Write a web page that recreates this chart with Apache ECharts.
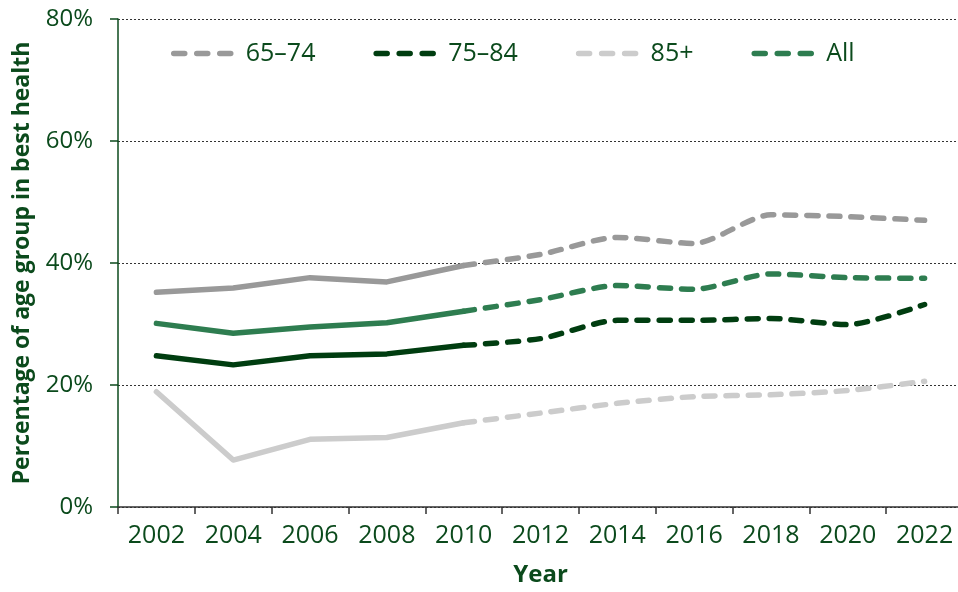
<!DOCTYPE html>
<html>
<head>
<meta charset="utf-8">
<script src="https://cdn.jsdelivr.net/npm/echarts@6/dist/echarts.min.js"></script>
<style>
  html, body { margin: 0; padding: 0; background: #fff; }
  #chart { width: 958px; height: 592px; }
</style>
</head>
<body>
<div id="chart"></div>
<script>
// survey years on the x axis
const years = ['2002', '2004', '2006', '2008', '2010', '2012', '2014', '2016', '2018', '2020', '2022']

// solid part (2002–2010), dashed part (2010–2022), values in %
const age6574 = [35.2, 35.9, 37.6, 36.9, 39.6, 41.4, 44.2, 43.2, 47.9, 47.6, 47.0]
const age7584 = [24.8, 23.3, 24.8, 25.1, 26.5, 27.6, 30.6, 30.6, 30.9, 29.9, 33.2]
const age85 = [18.9, 7.7, 11.1, 11.4, 13.8, 15.4, 17.0, 18.1, 18.4, 19.1, 20.6]
const ageAll = [30.1, 28.5, 29.5, 30.2, 32.1, 34.0, 36.3, 35.7, 38.2, 37.6, 37.5]

const splitIndex = 4 // 2010: solid ends, dashed starts

const yTicks = [0, 20, 40, 60, 80]

const textColor = '#0b4a1c'
const fontFamily = '"Open Sans", "Noto Sans", sans-serif'

const groups = [
  { name: '65–74', data: age6574, color: '#999999' },
  { name: '75–84', data: age7584, color: '#003d10' },
  { name: '85+', data: age85, color: '#cccccc' },
  { name: 'All', data: ageAll, color: '#2e7d50' },
]

// split one series into solid + dashed parts
const solidPart = (arr) => arr.map((v, i) => (i <= splitIndex ? v : '-'))
const dashedPart = (arr) => arr.map((v, i) => (i >= splitIndex ? v : '-'))

const dashedSeries = groups.map((g) => ({
  name: g.name,
  type: 'line',
  data: dashedPart(g.data),
  symbol: 'none',
  smooth: 0.25,
  lineStyle: { color: g.color, width: 5.5, type: [11, 11], cap: 'round', join: 'round' },
  itemStyle: { color: g.color },
  z: 3,
}))

const solidSeries = groups.map((g) => ({
  name: g.name,
  type: 'line',
  data: solidPart(g.data),
  symbol: 'none',
  lineStyle: { color: g.color, width: 5.5, type: 'solid', cap: 'round', join: 'round' },
  itemStyle: { color: g.color },
  z: 3,
}))

const chart = echarts.init(document.getElementById('chart'))

chart.setOption({
  animation: false,
  textStyle: { fontFamily: fontFamily },
  legend: {
    top: 36,
    left: 166,
    itemWidth: 63,
    itemHeight: 28,
    itemGap: 58,
    data: groups.map((g) => g.name),
    textStyle: { color: textColor, fontSize: 25, fontFamily: fontFamily, padding: [0, 0, 0, 4] },
    itemStyle: { opacity: 0 },
    lineStyle: { width: 5.5, type: [11, 12], cap: 'round' },
  },
  grid: {
    left: 118,
    top: 19,
    width: 845,
    height: 488,
    outerBoundsMode: 'none',
  },
  xAxis: {
    type: 'category',
    data: years,
    boundaryGap: true,
    name: 'Year',
    nameLocation: 'middle',
    nameGap: 56,
    nameTextStyle: { color: textColor, fontSize: 24, fontWeight: 'bold', fontFamily: fontFamily },
    axisLine: { lineStyle: { color: '#333333', width: 1.5 } },
    axisTick: { show: true, length: 7, lineStyle: { color: '#333333', width: 1.5 } },
    axisLabel: { color: textColor, fontSize: 25, margin: 16, fontFamily: fontFamily },
  },
  yAxis: {
    type: 'value',
    min: yTicks[0],
    max: yTicks[yTicks.length - 1],
    interval: 20,
    name: 'Percentage of age group in best health',
    nameLocation: 'middle',
    nameGap: 84,
    nameTextStyle: { color: textColor, fontSize: 23, fontWeight: 'bold', fontFamily: fontFamily },
    axisLine: { show: true, lineStyle: { color: '#0b4a1c', width: 1.5 } },
    axisTick: { show: true, length: 8, lineStyle: { color: '#0b4a1c', width: 1.5 } },
    axisLabel: { color: textColor, fontSize: 24, margin: 25, formatter: '{value}%', fontFamily: fontFamily },
    splitLine: { show: true, lineStyle: { color: '#333333', width: 1, type: [2, 2] } },
  },
  series: [...dashedSeries, ...solidSeries],
})
</script>
</body>
</html>
